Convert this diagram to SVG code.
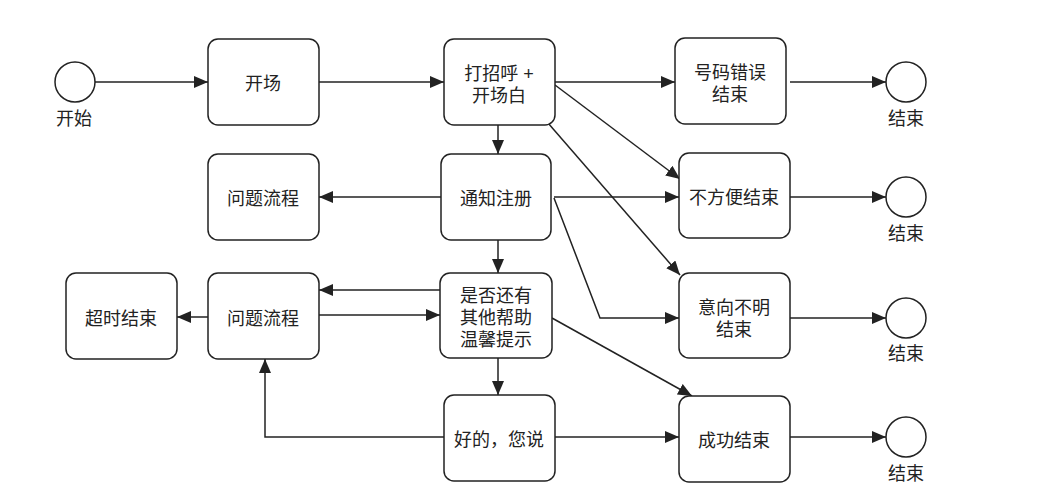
<svg xmlns="http://www.w3.org/2000/svg" width="1048" height="496" viewBox="0 0 1048 496">
<defs>
<style>
.box{fill:#fff;stroke:#222;stroke-width:1.5}
.ev{fill:#fff;stroke:#222;stroke-width:1.5}
.t{font-family:"Liberation Sans","Noto Sans CJK SC",sans-serif;font-size:18px;fill:#222;text-anchor:middle;dominant-baseline:central}
.c{fill:none;stroke:#222;stroke-width:1.5;marker-end:url(#arr)}
</style>
<marker id="arr" markerUnits="userSpaceOnUse" markerWidth="14" markerHeight="12" refX="14" refY="6" orient="auto">
<path d="M0,0 L14,6 L0,12 z" fill="#222"/>
</marker>
</defs>
<rect width="1048" height="496" fill="#fff"/>
<g id="connectors">
<path class="c" d="M94,82 H208"/>
<path class="c" d="M319,82 H444"/>
<path class="c" d="M555,82 H675"/>
<path class="c" d="M790,82 H886"/>
<path class="c" d="M555,85 L680,179"/>
<path class="c" d="M548,123 L680,275"/>
<path class="c" d="M498,124 V154"/>
<path class="c" d="M441,197 H319"/>
<path class="c" d="M554,197 H679"/>
<path class="c" d="M790,197 H886"/>
<path class="c" d="M554,198 L600,318 H679"/>
<path class="c" d="M790,318 H886"/>
<path class="c" d="M498,240 V273"/>
<path class="c" d="M440,290 H319"/>
<path class="c" d="M319,315 H440"/>
<path class="c" d="M208,317 H177"/>
<path class="c" d="M552,318 L692,396"/>
<path class="c" d="M498,358 V395"/>
<path class="c" d="M444,437 H265 V359"/>
<path class="c" d="M555,437 H679"/>
<path class="c" d="M790,437 H886"/>
</g>
<g id="start">
<circle class="ev" cx="75" cy="82" r="20"/>
<text class="t" x="74" y="119">开始</text>
</g>
<g id="kaichang">
<rect class="box" x="208" y="39" width="111" height="86" rx="10"/>
<text class="t" x="263" y="84">开场</text>
</g>
<g id="dazhaohu">
<rect class="box" x="444" y="39" width="111" height="86" rx="10"/>
<text class="t" x="499" y="74">打招呼 +<tspan x="499" dy="22">开场白</tspan></text>
</g>
<g id="haomacuowu">
<rect class="box" x="675" y="38" width="111" height="86" rx="10"/>
<text class="t" x="730" y="73">号码错误<tspan x="730" dy="22">结束</tspan></text>
</g>
<g id="end1">
<circle class="ev" cx="906" cy="82" r="20"/>
<text class="t" x="906" y="119">结束</text>
</g>
<g id="wenti1">
<rect class="box" x="208" y="154" width="111" height="86" rx="10"/>
<text class="t" x="263" y="199">问题流程</text>
</g>
<g id="tongzhi">
<rect class="box" x="441" y="154" width="110" height="86" rx="10"/>
<text class="t" x="496" y="199">通知注册</text>
</g>
<g id="bufangbian">
<rect class="box" x="679" y="153" width="111" height="85" rx="10"/>
<text class="t" x="734" y="198">不方便结束</text>
</g>
<g id="end2">
<circle class="ev" cx="906" cy="197" r="20"/>
<text class="t" x="906" y="234">结束</text>
</g>
<g id="chaoshi">
<rect class="box" x="66" y="273" width="111" height="86" rx="10"/>
<text class="t" x="121" y="319">超时结束</text>
</g>
<g id="wenti2">
<rect class="box" x="208" y="273" width="111" height="86" rx="10"/>
<text class="t" x="263" y="319">问题流程</text>
</g>
<g id="shifou">
<rect class="box" x="440" y="273" width="112" height="85" rx="10"/>
<text class="t" x="496" y="296">是否还有<tspan x="496" dy="22">其他帮助</tspan><tspan x="496" dy="22">温馨提示</tspan></text>
</g>
<g id="yixiang">
<rect class="box" x="679" y="273" width="111" height="85" rx="10"/>
<text class="t" x="734" y="308">意向不明<tspan x="734" dy="22">结束</tspan></text>
</g>
<g id="end3">
<circle class="ev" cx="906" cy="318" r="20"/>
<text class="t" x="906" y="354">结束</text>
</g>
<g id="haode">
<rect class="box" x="444" y="395" width="111" height="86" rx="10"/>
<text class="t" x="499" y="440">好的，您说</text>
</g>
<g id="chenggong">
<rect class="box" x="679" y="396" width="111" height="86" rx="10"/>
<text class="t" x="734" y="441">成功结束</text>
</g>
<g id="end4">
<circle class="ev" cx="906" cy="437" r="20"/>
<text class="t" x="906" y="474">结束</text>
</g>
</svg>
